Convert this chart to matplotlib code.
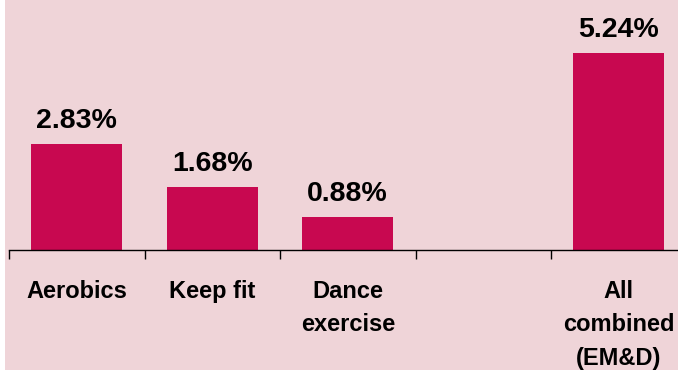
import numpy as np
import matplotlib.pyplot as plt
from matplotlib.patches import Rectangle

# -----------------------------------------
# Data
# -----------------------------------------
categories = ["Aerobics", "Keep fit", "Dance\nexercise", "", "All\ncombined\n(EM&D)"]
values = [2.83, 1.68, 0.88, np.nan, 5.24]
value_labels = ["2.83%", "1.68%", "0.88%", "", "5.24%"]

BG = "#EFD4D8"
BAR = "#C80850"

plt.rcParams["font.family"] = ["Liberation Sans", "DejaVu Sans"]

fig = plt.figure(figsize=(6.78, 3.70), dpi=100)
fig.patch.set_facecolor("white")
fig.patches.append(Rectangle((5 / 678, 0), 1, 1, transform=fig.transFigure,
                             facecolor=BG, edgecolor="none", zorder=-10))

ax = fig.add_axes([9 / 678, 120 / 370, 669 / 678, 250 / 370])
ax.set_facecolor("none")

x = np.arange(len(categories))
ax.bar(x, values, width=0.67, color=BAR, zorder=2)

for xi, v, lab in zip(x, values, value_labels):
    if np.isnan(v):
        continue
    ax.annotate(lab, (xi, v), xytext=(0, 11.5), textcoords="offset points",
                ha="center", va="baseline", fontsize=20.5, fontweight="bold")

ax.set_xlim(-0.5, -0.5 + 669 / 135.5)
ax.set_ylim(0, 250 / 37.6)

# category labels in the middle, tick marks on the boundaries
ax.set_xticks(x)
ax.set_xticklabels(categories, fontsize=17, fontweight="bold", linespacing=1.58)
ax.tick_params(axis="x", which="major", length=0, pad=21.5)
ax.set_xticks(np.arange(len(categories)) - 0.5, minor=True)
ax.tick_params(axis="x", which="minor", length=6.5, width=1, direction="out")
ax.set_yticks([])

for s in ["top", "right", "left"]:
    ax.spines[s].set_visible(False)
ax.spines["bottom"].set_linewidth(1)

fig.savefig("out.png", dpi=100, facecolor=fig.get_facecolor())
